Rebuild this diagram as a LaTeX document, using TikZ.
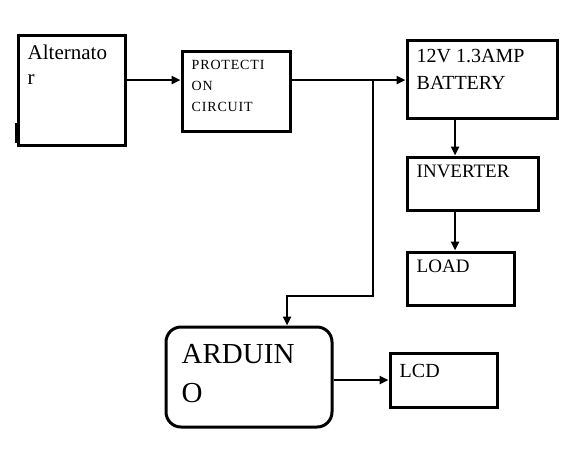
\documentclass[tikz,border=0pt]{standalone}
\usepackage{fontspec}
\setmainfont{Liberation Serif}
\newfontfamily\spacedfont[LetterSpace=6]{Liberation Serif}
\usetikzlibrary{arrows.meta, positioning}

\begin{document}
\begin{tikzpicture}[
        x=1pt, y=-1pt,
        box/.style={rectangle, draw=black, line width=3pt, inner sep=0pt},
        arrow/.style={-{Triangle[length=9pt, width=8pt]}, line width=2.6pt, draw=black},
        lbl/.style={anchor=north west, inner sep=0pt, align=left}
    ]
    \useasboundingbox (0,0) rectangle (588,451);

    % blocks
    \node[box, minimum width=107pt, minimum height=110pt] (alt) at (71.5,90) {};
    \node[box, minimum width=108pt, minimum height=80pt] (prot) at (236,91) {};
    \node[box, minimum width=150pt, minimum height=78pt] (bat) at (482,79) {};
    \node[box, minimum width=131pt, minimum height=53pt] (inv) at (472.5,183.5) {};
    \node[box, minimum width=107pt, minimum height=53pt] (load) at (460.5,278.5) {};
    \node[box, rounded corners=15pt, minimum width=166pt, minimum height=100pt] (ard) at (249,377) {};
    \node[box, minimum width=107pt, minimum height=54pt] (lcd) at (443.5,380) {};
    \draw[line width=4.5pt] (17,123) -- (17,143);

    % labels
    \node[lbl, font=\fontsize{21}{25}\selectfont] (altT) at ([shift={(11,11)}]alt.north west) {Alternato\\r};
    \node[lbl, font=\spacedfont\fontsize{14}{21}\selectfont] (protT) at ([shift={(11,11)}]prot.north west) {PROTECTI\\ON\\CIRCUIT};
    \node[lbl, font=\fontsize{20}{27}\selectfont] (batT) at ([shift={(11,11)}]bat.north west) {12V 1.3AMP\\BATTERY};
    \node[lbl, font=\fontsize{19}{23}\selectfont] (invT) at ([shift={(11,9)}]inv.north west) {INVERTER};
    \node[lbl, font=\fontsize{19}{23}\selectfont] (loadT) at ([shift={(11,9)}]load.north west) {LOAD};
    \node[lbl, font=\fontsize{29}{39}\selectfont] (ardT) at ([shift={(17,19)}]ard.north west) {ARDUIN\\O};
    \node[lbl, font=\fontsize{20}{24}\selectfont] (lcdT) at ([shift={(11,13)}]lcd.north west) {LCD};

    % connections
    \coordinate (split) at (373,80);
    \coordinate (bend) at (287,296);
    \draw[arrow] (alt.east |- split) -- (prot.west |- split);
    \draw[arrow] (prot.east |- split) -- (bat.west |- split);
    \draw[arrow] (split) |- (bend) -- (bend |- ard.north);
    \draw[arrow] ([xshift=-27pt]bat.south) -- ([xshift=-27pt]bat.south |- inv.north);
    \draw[arrow] ([xshift=-17.5pt]inv.south) -- ([xshift=-17.5pt]inv.south |- load.north);
    \draw[arrow] (ard.east |- lcd.west) -- (lcd.west);
\end{tikzpicture}
\end{document}
